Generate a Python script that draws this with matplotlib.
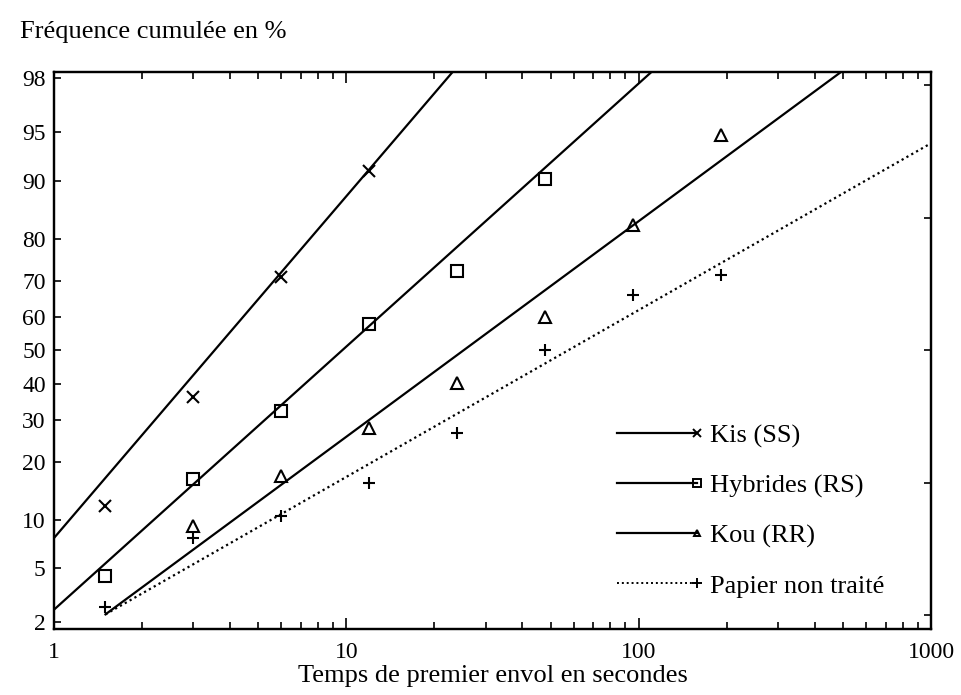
from statistics import NormalDist

import matplotlib

matplotlib.use("Agg")

import matplotlib.pyplot as plt
import numpy as np
from matplotlib.legend_handler import HandlerLine2D
from matplotlib.lines import Line2D
from matplotlib.ticker import FixedLocator, NullFormatter

# Flight times (s) and cumulative frequency (%) per strain
times = [1.5, 3, 6, 12, 24, 48, 96, 192]
kis_pct = [12, 36.2, 71, 91.2]
hybrides_pct = [4.4, 16.6, 32.3, 57.9, 72.5, 90.2]
kou_times = [3, 6, 12, 24, 48, 96, 192]
kou_pct = [9.2, 17.1, 27.9, 40.1, 59.9, 82.7, 94.8]
papier_pct = [2.6, 7.8, 10.5, 15.7, 26.6, 50.2, 66.1, 71.5]

# Fitted probit lines: (time start, time end), (% start, % end)
kis_fit = ([1, 23], [7.8, 98.2])
hybrides_fit = ([1, 110], [2.5, 98.2])
kou_fit = ([1.5, 489], [2.3, 98.2])
papier_fit = ([1.5, 1000], [2.3, 94.1])

pct_ticks = [2, 5, 10, 20, 30, 40, 50, 60, 70, 80, 90, 95, 98]
probit_ticks = [-2, -1, 0, 1, 2]

_nd = NormalDist()
_inv = np.vectorize(_nd.inv_cdf, otypes=[float])
_cdf = np.vectorize(_nd.cdf, otypes=[float])


def to_probit(p):
    p = np.clip(np.asarray(p, dtype=float) / 100.0, 1e-9, 1 - 1e-9)
    return _inv(p)


def from_probit(z):
    return _cdf(np.asarray(z, dtype=float)) * 100.0


def fit_line(x_ends, p_ends):
    # straight in log-time / probit space
    lx = np.linspace(np.log10(x_ends[0]), np.log10(x_ends[1]), 60)
    z = np.linspace(*to_probit(p_ends), 60)
    return 10 ** lx, from_probit(z)


class HandlerEndMarker(HandlerLine2D):
    """Legend line with its marker drawn at the right end."""

    def create_artists(self, legend, orig_handle, xdescent, ydescent, width,
                       height, fontsize, trans):
        artists = super().create_artists(legend, orig_handle, xdescent, ydescent,
                                         width, height, fontsize, trans)
        for a in artists:
            n = len(a.get_xdata())
            a.set_markevery([n - 1])
        return artists


plt.rcParams["font.family"] = ["Liberation Serif", "DejaVu Serif"]

fig = plt.figure(figsize=(9.62, 6.95), dpi=100)
ax = fig.add_axes([54 / 962, 66 / 695, 877 / 962, 557 / 695])
ax.set_xscale("log")
ax.set_yscale("function", functions=(to_probit, from_probit))

lw = 1.6
mk = dict(linestyle="none", color="black", markerfacecolor="none", markeredgewidth=1.5)
ax.plot(times[: len(kis_pct)], kis_pct, marker="x", markersize=8, **mk)
ax.plot(times[: len(hybrides_pct)], hybrides_pct, marker="s", markersize=8, **mk)
ax.plot(kou_times, kou_pct, marker="^", markersize=8, **mk)
ax.plot(times, papier_pct, marker="+", markersize=8, **mk)

ax.plot(*fit_line(*kis_fit), color="black", lw=lw)
ax.plot(*fit_line(*hybrides_fit), color="black", lw=lw)
ax.plot(*fit_line(*kou_fit), color="black", lw=lw)
ax.plot(*fit_line(*papier_fit), color="black", lw=1.6, linestyle=(0, (1, 1.5)))

ax.set_xlim(1, 1000)
ax.set_ylim(1.76, 98.22)

ax.yaxis.set_major_locator(FixedLocator(pct_ticks))
ax.set_yticklabels([str(t) for t in pct_ticks])
ax.yaxis.set_minor_locator(FixedLocator([]))
ax.set_xticks([1, 10, 100, 1000])
ax.set_xticklabels(["1", "10", "100", "1000"])
ax.xaxis.set_minor_formatter(NullFormatter())

ax.tick_params(axis="x", which="major", direction="in", length=8, width=1.2,
               labelsize=17, pad=9, top=True)
ax.tick_params(axis="x", which="minor", direction="in", length=5, width=1.2, top=True)
ax.tick_params(axis="y", which="major", direction="in", length=5, width=1.2,
               labelsize=17, pad=6)

# right-hand probit ticks on a twin axis with the same scale
ax2 = ax.twinx()
ax2.set_yscale("function", functions=(to_probit, from_probit))
ax2.set_ylim(ax.get_ylim())
ax2.yaxis.set_major_locator(FixedLocator(from_probit(probit_ticks)))
ax2.yaxis.set_minor_locator(FixedLocator([]))
ax2.tick_params(axis="y", direction="in", length=5, width=1.2, labelright=False)

for a in (ax, ax2):
    for s in a.spines.values():
        s.set_linewidth(1.6)

ax.set_xlabel("Temps de premier envol en secondes", fontsize=19, labelpad=2)
fig.text(20 / 962, 1 - 32 / 695, "Fréquence cumulée en %", fontsize=19, va="center")

handles = [
    Line2D([], [], color="black", lw=lw, marker="x", markersize=6, markeredgewidth=1.4),
    Line2D([], [], color="black", lw=lw, marker="s", markersize=6, markerfacecolor="none",
           markeredgewidth=1.4),
    Line2D([], [], color="black", lw=lw, marker="^", markersize=5, markerfacecolor="none",
           markeredgewidth=1.4),
    Line2D([], [], color="black", lw=1.4, linestyle=(0, (1, 1.5)), marker="+",
           markersize=7, markeredgewidth=1.4),
]
labels = ["Kis (SS)", "Hybrides (RS)", "Kou (RR)", "Papier non traité"]
ax2.legend(handles, labels, handler_map={Line2D: HandlerEndMarker()},
           loc="upper left", bbox_to_anchor=(0.6425, 0.368), frameon=False,
           fontsize=19, handlelength=3.0, handletextpad=0.5, labelspacing=0.99,
           borderpad=0, borderaxespad=0)

fig.savefig("out.png", dpi=100)
